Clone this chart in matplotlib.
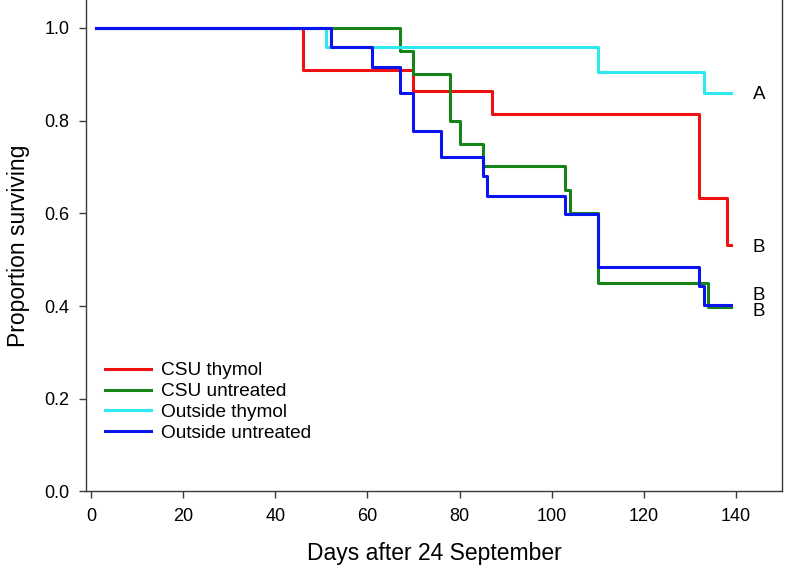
import matplotlib
matplotlib.use("Agg")
import matplotlib.pyplot as plt

plt.rcParams["font.family"] = ["Liberation Sans", "DejaVu Sans"]

# Kaplan-Meier steps (day, proportion surviving)
csu_thymol_t = [1, 46, 70, 87, 132, 138, 139]
csu_thymol_s = [1.0, 0.909, 0.864, 0.814, 0.632, 0.532, 0.532]

csu_untreated_t = [1, 67, 70, 78, 80, 85, 103, 104, 110, 134, 139]
csu_untreated_s = [1.0, 0.951, 0.900, 0.799, 0.749, 0.702, 0.650, 0.600, 0.449, 0.398, 0.398]

out_thymol_t = [1, 51, 110, 133, 139]
out_thymol_s = [1.0, 0.958, 0.904, 0.860, 0.860]

out_untreated_t = [1, 52, 61, 67, 70, 76, 85, 86, 103, 110, 132, 133, 139]
out_untreated_s = [1.0, 0.958, 0.916, 0.860, 0.777, 0.722, 0.680, 0.637, 0.598, 0.485, 0.444, 0.402, 0.402]

# group letters at the end of the curves
letters = ["A", "B", "B", "B"]
letter_y = [0.856, 0.527, 0.422, 0.389]
letter_x = 145

fig = plt.figure(figsize=(7.86, 5.8), dpi=100)
ax = fig.add_axes([0.1094, 0.1526, 0.8855, 0.8474])

ax.plot(csu_thymol_t, csu_thymol_s, drawstyle="steps-post", color="#ee1111", lw=2.2, label="CSU thymol")
ax.plot(csu_untreated_t, csu_untreated_s, drawstyle="steps-post", color="#17841a", lw=2.2, label="CSU untreated")
ax.plot(out_thymol_t, out_thymol_s, drawstyle="steps-post", color="#2ee8f0", lw=2.2, label="Outside thymol")
ax.plot(out_untreated_t, out_untreated_s, drawstyle="steps-post", color="#0a14ee", lw=2.2, label="Outside untreated")

for lab, yy in zip(letters, letter_y):
    ax.text(letter_x, yy, lab, fontsize=13.5, ha="center", va="center", color="black")

ax.set_xlim(-1.1, 150)
ax.set_ylim(0, 1.06)
ax.set_xticks(range(0, 141, 20))
ax.set_yticks([0.0, 0.2, 0.4, 0.6, 0.8, 1.0])
ax.set_yticklabels(["0.0", "0.2", "0.4", "0.6", "0.8", "1.0"])

ax.spines["top"].set_visible(False)
for s in ["left", "right", "bottom"]:
    ax.spines[s].set_color("#3a3a3a")
    ax.spines[s].set_linewidth(1.0)
ax.tick_params(direction="out", length=5, width=1, color="#3a3a3a", labelsize=13, pad=7)

ax.set_xlabel("Days after 24 September", fontsize=16.5, labelpad=12)
ax.set_ylabel("Proportion surviving", fontsize=16.5, labelpad=10)

ax.legend(loc="upper left", bbox_to_anchor=(3.0, 0.279), bbox_transform=ax.transData,
          frameon=False, fontsize=13.7, borderaxespad=0, borderpad=0,
          handlelength=2.4, handletextpad=0.55, labelspacing=0.18)

plt.savefig("out.png", dpi=100)
